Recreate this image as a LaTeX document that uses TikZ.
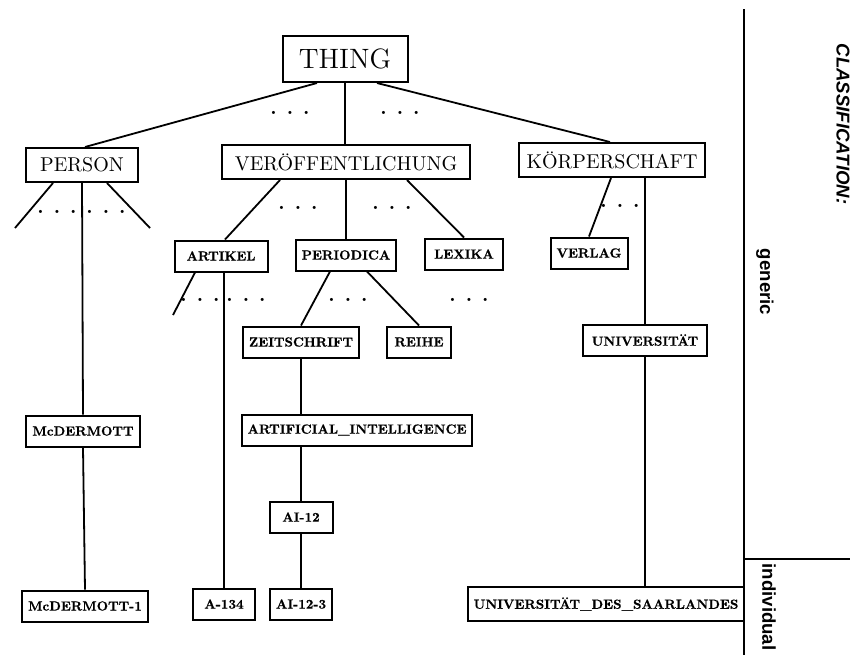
\documentclass[tikz,border=0pt]{standalone}
\usepackage{fontspec}
\newfontfamily\sidefont{Liberation Sans}
\newfontfamily\boxfont{lmroman10-bold.otf}[FakeBold=0.6]
\usetikzlibrary{calc}
\newcommand{\gapdots}{.\hspace{5pt}.\hspace{5pt}.}

\begin{document}
\begin{tikzpicture}[x=0.5pt, y=-0.5pt]

        \tikzstyle{bigbox} = [draw, line width=1pt, font=\fontsize{10}{12}\selectfont, minimum height=17pt, inner xsep=4pt, inner ysep=0pt];
        \tikzstyle{smallbox} = [draw, line width=1pt, font=\boxfont\fontsize{6.6}{7.5}\selectfont, minimum height=15.5pt, inner xsep=3pt, inner ysep=0pt];
        \tikzstyle{dotsnode} = [font=\fontsize{10}{12}\selectfont\bfseries, inner sep=0pt];
        \tikzstyle{treeline} = [line width=0.9pt];
        \tikzstyle{side} = [font=\sidefont\bfseries\fontsize{9.3}{11}\selectfont, rotate=-90, inner sep=0pt];

        \useasboundingbox (0,0) rectangle (850,655);

        % Top
        \node[bigbox, font=\fontsize{14}{16}\selectfont, minimum width=62.5pt, minimum height=23pt] (thing) at (345,59) {THING};
        \node[dotsnode] (dt1) at (290,113) {\gapdots};
        \node[dotsnode] (dt2) at (400,113) {\gapdots};

        \node[bigbox, minimum width=56pt] (person) at (82,165) {PERSON};
        \node[bigbox, minimum width=124pt] (veroe) at (346,162) {VERÖFFENTLICHUNG};
        \node[bigbox, minimum width=93pt] (koerp) at (612,160) {KÖRPERSCHAFT};

        \draw [treeline] ($(thing.south)+(-28,0)$) -- ($(person.north)+(3,0)$);
        \draw [treeline] (thing.south) -- (thing.south |- veroe.north);
        \draw [treeline] ($(thing.south)+(32,0)$) -- ($(koerp.north)+(-2,0)$);
        % Top

        % Left - Person
        \coordinate (pl) at (15,228);
        \coordinate (pr) at (150,228);
        \node[dotsnode] (dp1) at (57,212) {\gapdots};
        \node[dotsnode] (dp2) at (106,212) {\gapdots};

        \node[smallbox, minimum width=55pt] (mcd) at (83,431) {McDERMOTT};
        \node[smallbox, minimum width=63pt] (mcd1) at (85,606) {McDERMOTT-1};

        \draw [treeline] ($(person.south)+(-29,0)$) -- (pl);
        \draw [treeline] ($(person.south)+(25,0)$) -- (pr);
        \draw [treeline] (person.south) -- (mcd.north);
        \draw [treeline] (mcd.south) -- (mcd1.north);
        % Left - Person

        % Middle - Veroeffentlichung
        \node[dotsnode] (dv1) at (298,208) {\gapdots};
        \node[dotsnode] (dv2) at (392,208) {\gapdots};

        \node[smallbox, minimum width=46.5pt] (artikel) at (221,256) {ARTIKEL};
        \node[smallbox, minimum width=47.5pt] (periodica) at (346,255) {PERIODICA};
        \node[smallbox, minimum width=39pt] (lexika) at (464,254) {LEXIKA};

        \draw [treeline] ($(veroe.south)+(-66,0)$) -- ($(artikel.north)+(4,0)$);
        \draw [treeline] (veroe.south) -- (periodica.north);
        \draw [treeline] ($(veroe.south)+(61,0)$) -- (lexika.north);

        \coordinate (al) at (173,315);
        \node[dotsnode] (da1) at (200,300) {\gapdots};
        \node[dotsnode] (da2) at (246,300) {\gapdots};
        \node[dotsnode] (dpe) at (348,300) {\gapdots};
        \node[dotsnode] (dle) at (469,300) {\gapdots};

        \node[smallbox, minimum width=31pt] (a134) at (224,604) {A-134};
        \node[smallbox, minimum width=54pt] (zeit) at (301,342) {ZEITSCHRIFT};
        \node[smallbox, minimum width=32pt] (reihe) at (419,342) {REIHE};
        \node[smallbox, minimum width=110pt] (artint) at (357,430) {ARTIFICIAL\_INTELLIGENCE};
        \node[smallbox, minimum width=31.5pt] (ai12) at (301,517) {AI-12};
        \node[smallbox, minimum width=31pt] (ai123) at (301,604) {AI-12-3};

        \draw [treeline] ($(artikel.south)+(-26,0)$) -- (al);
        \draw [treeline] (a134.north |- artikel.south) -- (a134.north);
        \draw [treeline] ($(periodica.south)+(-16,0)$) -- (zeit.north);
        \draw [treeline] ($(periodica.south)+(21,0)$) -- (reihe.north);
        \draw [treeline] (zeit.south) -- (zeit.south |- artint.north);
        \draw [treeline] (ai12.north |- artint.south) -- (ai12.north);
        \draw [treeline] (ai12.south) -- (ai123.north);
        % Middle - Veroeffentlichung

        % Right - Koerperschaft
        \node[dotsnode] (dk) at (620,206) {\gapdots};

        \node[smallbox, minimum width=38.5pt] (verlag) at (589,253) {VERLAG};
        \node[smallbox, minimum width=62pt] (univ) at (645,340) {UNIVERSITÄT};
        \node[smallbox, minimum width=132pt, minimum height=17pt] (uds) at (606,604) {UNIVERSITÄT\_DES\_SAARLANDES};

        \draw [treeline] ($(koerp.south)+(-1,0)$) -- (verlag.north);
        \draw [treeline] (univ.north |- koerp.south) -- (univ.north);
        \draw [treeline] (univ.south) -- (univ.south |- uds.north);
        % Right - Koerperschaft

        % Classification
        \coordinate (ctop) at (744,9);
        \coordinate (cbot) at (744,655);
        \coordinate (cmid) at (744,559);
        \coordinate (cend) at (850,559);
        \draw [treeline] (ctop) -- (cbot);
        \draw [treeline] (cmid) -- (cend);

        \node[side, font=\sidefont\bfseries\itshape\fontsize{9.3}{11}\selectfont] (classif) at (843,124) {CLASSIFICATION:};
        \node[side] (generic) at (765,282) {generic};
        \node[side] (indiv) at (769,607) {individual};
        % Classification

\end{tikzpicture}
\end{document}
